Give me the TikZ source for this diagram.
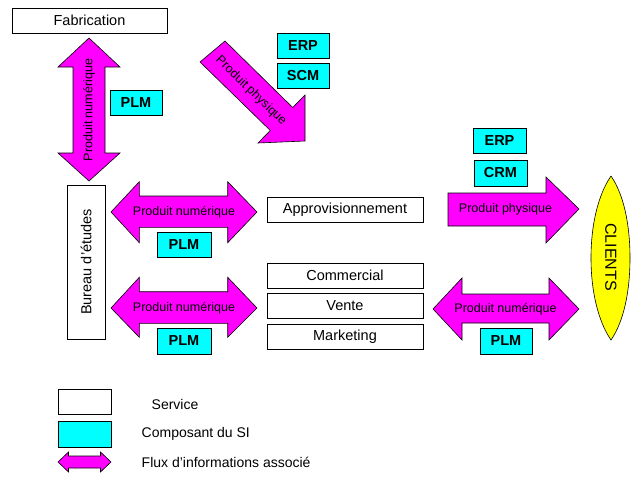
\documentclass[tikz,border=0pt]{standalone}
\usepackage{fontspec}
\setmainfont{Liberation Sans}
\definecolor{mag}{RGB}{255,0,255}
\definecolor{cyn}{RGB}{0,255,255}
\definecolor{yel}{RGB}{255,255,0}
\tikzset{
  service/.style={draw=black, line width=0.8pt, fill=white, inner sep=0pt, font=\fontsize{14.5}{16}\selectfont},
  sibox/.style={draw=black, line width=0.8pt, fill=cyn, inner sep=0pt, minimum width=52pt, minimum height=25pt, font=\fontsize{14.5}{16}\selectfont\bfseries},
  flux/.style={draw=black, line width=0.6pt, fill=mag, line join=miter},
  fluxlabel/.style={inner sep=0pt, font=\fontsize{12.5}{14}\selectfont},
  legendtext/.style={inner sep=0pt, anchor=west, font=\fontsize{14}{16}\selectfont},
}
\begin{document}
\begin{tikzpicture}[x=1pt,y=-1pt]
\useasboundingbox (0,0) rectangle (633,477);

% Services
\node[service, minimum width=155pt, minimum height=25pt] (fab) at (89.5,20.5) {Fabrication};
\node[service, minimum width=38pt, minimum height=154pt] (be) at (86,262) {};
\node[rotate=90, inner sep=0pt, font=\fontsize{14.5}{16}\selectfont] (betxt) at (be.center) {Bureau d'études};
\node[service, minimum width=156pt, minimum height=25pt] (appro) at (345,209.5) {Approvisionnement};
\node[service, minimum width=156pt, minimum height=25pt] (comm) at (345,275.5) {Commercial};
\node[service, minimum width=156pt, minimum height=25pt] (vente) at (345,306) {Vente};
\node[service, minimum width=156pt, minimum height=25pt] (mkt) at (345,336.5) {Marketing};

% Vertical double arrow
\draw[flux] (89,38) -- (120,67) -- (105,67) -- (105,153) -- (120,153) -- (89,181)
  -- (58,153) -- (73,153) -- (73,67) -- (58,67) -- cycle;
\node[fluxlabel, rotate=90] (f1) at (89,110) {Produit numérique};

% Diagonal arrow
\draw[flux] (200,62) -- (225,41) -- (292.7,107.5) -- (305,95) -- (305,141) -- (258,143) -- (270.3,130.5) -- cycle;
\node[fluxlabel, rotate=-44] (f2) at (251,91) {Produit physique};

% Left double arrows
\draw[flux] (111,212) -- (139.3,181.7) -- (139.3,196) -- (227.7,196) -- (227.7,181.7) -- (257,212)
  -- (227.7,242.7) -- (227.7,227.3) -- (139.3,227.3) -- (139.3,242.7) -- cycle;
\node[fluxlabel] (f3) at (184,212) {Produit numérique};
\draw[flux] (111,308) -- (139.3,277.3) -- (139.3,291.7) -- (227.7,291.7) -- (227.7,277.3) -- (257,308)
  -- (227.7,337.3) -- (227.7,323.3) -- (139.3,323.3) -- (139.3,337.3) -- cycle;
\node[fluxlabel] (f4) at (184,308) {Produit numérique};

% Right arrow
\draw[flux] (448,193) -- (546,193) -- (546,177) -- (579,209) -- (546,243) -- (546,226) -- (448,226) -- cycle;
\node[fluxlabel] (f5) at (505.5,209) {Produit physique};

% Right double arrow
\draw[flux] (433,309) -- (462,278) -- (462,294) -- (549,294) -- (549,278) -- (579,309)
  -- (549,340) -- (549,323) -- (462,323) -- (462,340) -- cycle;
\node[fluxlabel] (f6) at (505.5,309) {Produit numérique};

% SI components
\node[sibox] (plm1) at (136,103) {PLM};
\node[sibox] (erp1) at (303,46) {ERP};
\node[sibox] (scm) at (303,76) {SCM};
\node[sibox, minimum width=54pt] (plm2) at (184,244.5) {PLM};
\node[sibox, minimum width=54pt, minimum height=26pt] (plm3) at (184,341) {PLM};
\node[sibox, minimum width=53pt] (erp2) at (499.5,140.5) {ERP};
\node[sibox, minimum width=53pt, minimum height=26pt] (crm) at (500.5,173) {CRM};
\node[sibox, minimum height=26pt] (plm4) at (506,341) {PLM};

% Clients
\draw[draw=black, line width=0.6pt, fill=yel] (611,176) .. controls (624,195) and (630,225) .. (630,258)
  .. controls (630,291) and (624,321) .. (611,340)
  .. controls (598,321) and (591,291) .. (591,258)
  .. controls (591,225) and (598,195) .. (611,176);
\node[rotate=-90, inner sep=0pt, font=\fontsize{16}{18}\selectfont] (clients) at (611,257) {CLIENTS};

% Legend
\node[service, minimum width=53pt, minimum height=25pt] (lgs) at (84.5,401.5) {};
\node[sibox, minimum width=53pt, minimum height=26pt] (lgc) at (84.5,434) {};
\draw[flux] (58,462) -- (68.5,452) -- (68.5,456) -- (100.5,456) -- (100.5,452) -- (111,462)
  -- (100.5,472) -- (100.5,468) -- (68.5,468) -- (68.5,472) -- cycle;
\node[legendtext] (lt1) at (151.5,404) {Service};
\node[legendtext] (lt2) at (141.5,434) {Composant du SI};
\node[legendtext] (lt3) at (141.5,462) {Flux d'informations associé};
\end{tikzpicture}
\end{document}
